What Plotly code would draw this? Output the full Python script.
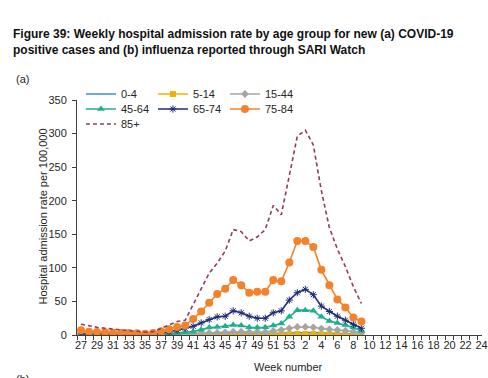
import plotly.graph_objects as go

weeks = [str(w) for w in range(27, 54)] + [str(w) for w in range(1, 27)]

age_0_4 = [1.0, 1.0, 0.9, 0.8, 0.7, 0.6, 0.5, 0.5, 0.5, 0.6, 0.8, 1.0, 1.3, 1.5, 1.8, 2.0, 2.2, 2.4,
           2.5, 2.8, 2.6, 2.4, 2.3, 2.3, 2.6, 2.8, 3.3, 3.8, 3.8, 3.5, 3.0, 2.6, 2.2, 1.8, 1.5, 1.2]
age_5_14 = [0.3, 0.3, 0.3, 0.2, 0.2, 0.2, 0.2, 0.2, 0.2, 0.2, 0.2, 0.3, 0.3, 0.4, 0.5, 0.5, 0.6, 0.7,
            0.8, 1.0, 1.0, 0.9, 0.9, 0.9, 1.0, 1.1, 1.2, 1.5, 1.5, 1.3, 1.1, 1.0, 0.8, 0.7, 0.5, 0.4]
age_15_44 = [0.8, 0.7, 0.6, 0.5, 0.5, 0.4, 0.4, 0.4, 0.4, 0.4, 0.5, 0.8, 1.0, 1.5, 2.0, 2.5, 3.0, 3.5,
             4.0, 5.0, 5.0, 4.5, 4.5, 4.5, 6.0, 7.5, 10.0, 12.0, 12.0, 11.5, 9.5, 8.5, 7.5, 6.5, 5.0, 4.0]
age_45_64 = [1.5, 1.2, 1.0, 0.8, 0.7, 0.6, 0.6, 0.6, 0.6, 0.8, 1.2, 2.0, 3.0, 4.0, 5.0, 8.0, 11.0, 12.0,
             13.0, 15.0, 14.0, 11.5, 11.0, 11.5, 14.0, 17.0, 27.0, 37.0, 37.0, 36.0, 27.0, 21.0, 18.0, 15.0, 11.0, 6.5]
age_65_74 = [2.0, 2.0, 1.5, 1.5, 1.0, 1.0, 1.0, 1.0, 1.0, 1.5, 2.5, 4.5, 7.0, 10.0, 13.0, 18.0, 23.0, 27.0,
             28.0, 36.0, 33.0, 28.0, 25.0, 25.0, 33.0, 36.0, 52.0, 63.0, 68.0, 60.0, 43.0, 35.0, 28.0, 22.0, 16.0, 10.0]
age_75_84 = [7.0, 5.0, 4.5, 4.0, 3.5, 3.0, 3.0, 2.5, 2.0, 3.0, 5.5, 8.5, 12.0, 14.0, 24.0, 35.0, 48.0, 61.0,
             69.0, 82.0, 74.0, 63.0, 64.5, 64.5, 82.0, 80.0, 108.0, 140.0, 140.0, 131.0, 97.0, 74.0, 53.0, 41.0, 26.0, 20.0]
age_85_plus = [16.0, 13.5, 11.5, 10.0, 8.5, 7.5, 6.5, 5.5, 4.0, 5.0, 10.0, 15.0, 20.0, 22.0, 45.0, 67.0, 92.0, 107.0,
               125.0, 157.0, 154.0, 140.0, 146.0, 157.0, 193.0, 179.0, 240.0, 296.0, 305.0, 283.0, 215.0, 160.0, 128.0, 102.0, 72.0, 47.0]

series_names = ["0-4", "5-14", "15-44", "45-64", "65-74", "75-84", "85+"]
y_ticks = [0, 50, 100, 150, 200, 250, 300, 350]
x_ticktext = [w if i % 2 == 0 else "" for i, w in enumerate(weeks)]

FONT = "Liberation Sans, Arial, sans-serif"
TXT = "#262626"

n = len(age_0_4)
x = weeks[:n]

styles = [
    dict(data=age_0_4, color="#3F8DCB", mode="lines", marker=dict(), dash="solid", legend="legend"),
    dict(data=age_5_14, color="#F2B007", mode="lines+markers", marker=dict(symbol="square", size=6), dash="solid", legend="legend"),
    dict(data=age_15_44, color="#A5A5A5", mode="lines+markers", marker=dict(symbol="diamond", size=6), dash="solid", legend="legend"),
    dict(data=age_45_64, color="#1EAF8C", mode="lines+markers", marker=dict(symbol="triangle-up", size=7), dash="solid", legend="legend2"),
    dict(data=age_65_74, color="#1F2C78", mode="lines+markers",
         marker=dict(symbol="asterisk-open", size=6, line=dict(width=1, color="#6C8BCB")), dash="solid", legend="legend2"),
    dict(data=age_75_84, color="#F5812A", mode="lines+markers", marker=dict(symbol="circle", size=8), dash="solid", legend="legend2"),
    dict(data=age_85_plus, color="#8E3B5E", mode="lines", marker=dict(), dash="4px,3px", legend="legend3"),
]

fig = go.Figure()
for name, st in zip(series_names, styles):
    mk = dict(color=st["color"])
    mk.update(st["marker"])
    fig.add_trace(go.Scatter(
        x=x, y=st["data"], name=name, mode=st["mode"],
        line=dict(color=st["color"], width=1.6, dash=st["dash"]),
        marker=mk, legend=st["legend"],
    ))

W, H = 488, 378
L, R, T, B = 77, 0, 100, 43
pw = W - L - R
ph = H - T - B
cat_px = 8.13

def px_x(p):
    return (p - L) / pw

def px_y(p):
    return (H - B - p) / ph

leg_common = dict(orientation="h", font=dict(family=FONT, size=11, color=TXT),
                  bgcolor="rgba(0,0,0,0)", entrywidth=27, entrywidthmode="pixels",
                  xanchor="left", yanchor="middle", tracegroupgap=0)

fig.update_layout(
    width=W, height=H, autosize=False,
    margin=dict(l=L, r=R, t=T, b=B, pad=0),
    paper_bgcolor="white", plot_bgcolor="white",
    font=dict(family=FONT, size=11, color=TXT),
    showlegend=True,
    legend=dict(x=px_x(81), y=px_y(94), **leg_common),
    legend2=dict(x=px_x(81), y=px_y(109), **leg_common),
    legend3=dict(x=px_x(81), y=px_y(124), **leg_common),
    title=dict(
        text="<b>Figure 39: Weekly hospital admission rate by age group for new (a) COVID-19<br>positive cases and (b) influenza reported through SARI Watch</b>",
        xref="container", yref="container", x=13 / W, xanchor="left",
        y=1 - 38 / H, yanchor="middle",
        font=dict(family=FONT, size=12, color="#111"),
    ),
    xaxis=dict(
        type="category", categoryorder="array", categoryarray=weeks,
        range=[-0.5, -0.5 + pw / cat_px],
        tickmode="array", tickvals=weeks, ticktext=x_ticktext,
        tickson="boundaries", ticks="outside", ticklen=4, tickcolor="#404040",
        showline=True, linecolor="#404040", linewidth=1,
        showgrid=False, zeroline=False, tickangle=0,
        tickfont=dict(family=FONT, size=11, color=TXT),
        ticklabeloverflow="allow",
    ),
    yaxis=dict(
        range=[0, 350], tickvals=y_ticks, ticks="outside", ticklen=4, tickcolor="#404040",
        showline=True, linecolor="#404040", linewidth=1,
        showgrid=False, zeroline=False,
        tickfont=dict(family=FONT, size=11, color=TXT),
        ticklabelstandoff=3,
    ),
    annotations=[
        dict(text="Week number", xref="paper", yref="paper", x=px_x(292), y=px_y(367),
             xanchor="center", yanchor="middle", showarrow=False,
             font=dict(family=FONT, size=11, color=TXT)),
        dict(text="Hospital admission rate per 100,000", xref="paper", yref="paper",
             x=px_x(42), y=px_y(217), xanchor="center", yanchor="middle", textangle=-90,
             showarrow=False, font=dict(family=FONT, size=11, color=TXT)),
        dict(text="(a)", xref="paper", yref="paper", x=px_x(13), y=px_y(79),
             xanchor="left", yanchor="middle", showarrow=False,
             font=dict(family=FONT, size=11, color=TXT)),
        dict(text="(b)", xref="paper", yref="paper", x=px_x(13), y=px_y(379),
             xanchor="left", yanchor="middle", showarrow=False,
             font=dict(family=FONT, size=11, color=TXT)),
    ],
)

fig.write_html("out.html", config={"displayModeBar": False},
               post_script="document.body.style.margin='0';")
